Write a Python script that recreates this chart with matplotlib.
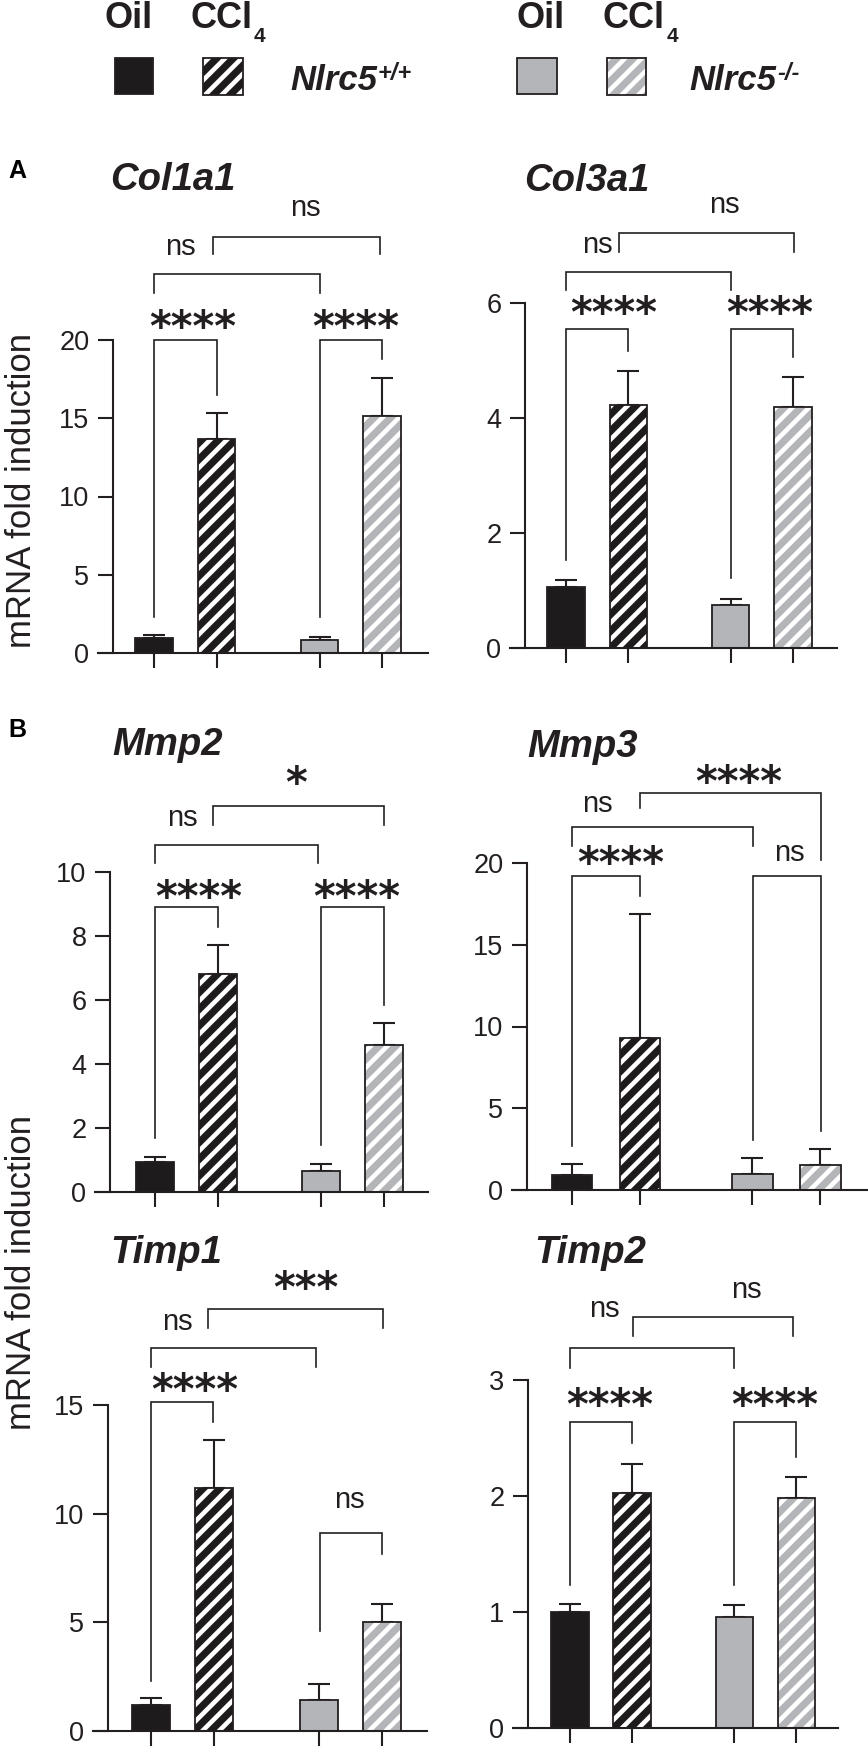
import matplotlib
matplotlib.use('Agg')
import matplotlib.pyplot as plt
from matplotlib.patches import Rectangle
from matplotlib.transforms import offset_copy

plt.rcParams['font.family'] = ['Liberation Sans', 'DejaVu Sans']
plt.rcParams['hatch.linewidth'] = 3.3

W, H = 868, 1746
INK = '#231f20'
GRAY = '#b4b5b8'

# ---------------- data ----------------
groups = ['Oil Nlrc5+/+', 'CCl4 Nlrc5+/+', 'Oil Nlrc5-/-', 'CCl4 Nlrc5-/-']
positions = [0, 1, 2.65, 3.65]
genes = ['Col1a1', 'Col3a1', 'Mmp2', 'Mmp3', 'Timp1', 'Timp2']

col1a1_mean = [0.95, 13.7, 0.82, 15.15]
col1a1_sem = [0.20, 1.65, 0.20, 2.45]
col3a1_mean = [1.06, 4.22, 0.74, 4.19]
col3a1_sem = [0.13, 0.60, 0.12, 0.52]
mmp2_mean = [0.94, 6.81, 0.66, 4.59]
mmp2_sem = [0.16, 0.91, 0.22, 0.69]
mmp3_mean = [0.92, 9.30, 0.98, 1.53]
mmp3_sem = [0.64, 7.60, 0.95, 0.97]
timp1_mean = [1.20, 11.18, 1.43, 5.02]
timp1_sem = [0.32, 2.22, 0.73, 0.82]
timp2_mean = [1.00, 2.03, 0.96, 1.98]
timp2_sem = [0.07, 0.25, 0.10, 0.18]

# significance: [WT oil vs CCl4, KO oil vs CCl4, oil WT vs KO, CCl4 WT vs KO]
col1a1_sig = ['****', '****', 'ns', 'ns']
col3a1_sig = ['****', '****', 'ns', 'ns']
mmp2_sig = ['****', '****', 'ns', '*']
mmp3_sig = ['****', 'ns', 'ns', '****']
timp1_sig = ['****', 'ns', 'ns', '***']
timp2_sig = ['****', '****', 'ns', 'ns']

col1a1_ticks = [0, 5, 10, 15, 20]
col3a1_ticks = [0, 2, 4, 6]
mmp2_ticks = [0, 2, 4, 6, 8, 10]
mmp3_ticks = [0, 5, 10, 15, 20]
timp1_ticks = [0, 5, 10, 15]
timp2_ticks = [0, 1, 2, 3]

data = {
    'Col1a1': (col1a1_mean, col1a1_sem, col1a1_sig, col1a1_ticks),
    'Col3a1': (col3a1_mean, col3a1_sem, col3a1_sig, col3a1_ticks),
    'Mmp2': (mmp2_mean, mmp2_sem, mmp2_sig, mmp2_ticks),
    'Mmp3': (mmp3_mean, mmp3_sem, mmp3_sig, mmp3_ticks),
    'Timp1': (timp1_mean, timp1_sem, timp1_sig, timp1_ticks),
    'Timp2': (timp2_mean, timp2_sem, timp2_sig, timp2_ticks),
}

# ---------------- layout (pixels) ----------------
layout = {
    'Col1a1': dict(x0=154, s=62.5, yaxis=113, xright=428, y0=653, ytop=340, title=(110, 190)),
    'Col3a1': dict(x0=566, s=62.2, yaxis=525, xright=837, y0=648, ytop=303, title=(524, 191)),
    'Mmp2': dict(x0=155, s=62.7, yaxis=110, xright=428, y0=1192, ytop=872, title=(112, 755)),
    'Mmp3': dict(x0=572, s=68.0, yaxis=527, xright=867, y0=1190, ytop=863, title=(527, 757)),
    'Timp1': dict(x0=151, s=63.3, yaxis=108, xright=427, y0=1731, ytop=1405, title=(110, 1263)),
    'Timp2': dict(x0=570, s=62.0, yaxis=528, xright=838, y0=1728, ytop=1380, title=(534, 1263)),
}
# brackets: (x_left, x_right, y_bar, y_left_end, y_right_end, label_x, label_y)
brackets = {
    'Col1a1': [(0, 1, 20, 2.3, 16.5, 0.62, 21.47), (2.65, 3.65, 20, 2.3, 18.8, 3.23, 21.47),
               (0, 2.65, 24.2, 23.0, 23.0, 0.42, 25.94), (0.94, 3.62, 26.6, 25.5, 25.5, 2.43, 28.43)],
    'Col3a1': [(0, 1, 5.55, 1.53, 5.17, 0.77, 6.0), (2.65, 3.65, 5.55, 1.22, 5.06, 3.28, 6.0),
               (0, 2.65, 6.54, 6.23, 6.23, 0.5, 7.01), (0.85, 3.67, 7.22, 6.89, 6.89, 2.54, 7.69)],
    'Mmp2': [(0, 1, 8.9, 1.69, 8.28, 0.69, 9.53), (2.65, 3.65, 8.9, 1.47, 5.84, 3.22, 9.53),
             (0, 2.6, 10.84, 10.28, 10.28, 0.43, 11.69), (0.92, 3.65, 12.06, 11.47, 11.47, 2.25, 13.09)],
    'Mmp3': [(0, 1, 19.2, 2.69, 18.0, 0.71, 20.6), (2.66, 3.66, 19.2, 3.06, 3.6, 3.19, 20.6),
             (0, 2.66, 22.2, 21.04, 21.04, 0.37, 23.6), (1.0, 3.66, 24.28, 23.36, 20.2, 2.45, 25.57)],
    'Timp1': [(0, 0.98, 15.14, 2.3, 14.2, 0.69, 16.15), (2.67, 3.65, 9.1, 4.6, 8.15, 3.13, 10.63),
              (0, 2.6, 17.6, 16.75, 16.75, 0.41, 18.78), (0.9, 3.67, 19.4, 18.55, 18.55, 2.45, 20.85)],
    'Timp2': [(0, 1, 2.64, 1.23, 2.46, 0.64, 2.87), (2.65, 3.65, 2.64, 1.23, 2.34, 3.3, 2.87),
              (0, 2.65, 3.28, 3.10, 3.10, 0.55, 3.61), (1.02, 3.6, 3.54, 3.38, 3.38, 2.84, 3.77)],
}

fills = ['#1e1b1c', '#1e1b1c', GRAY, GRAY]
hatched = [False, True, False, True]
HATCH = '//'

fig = plt.figure(figsize=(W / 100, H / 100), dpi=100)
fig.patch.set_facecolor('white')


def ftext(x, y, s, **kw):
    return fig.text(x / W, 1 - y / H, s, **kw)


STAR_FS = 30
NS_FS = 21

for gene in genes:
    L = layout[gene]
    means, sems, sigs, ticks = data[gene]
    ymax = ticks[-1]
    left_px = L['yaxis'] - 15
    ax = fig.add_axes([left_px / W, 1 - L['y0'] / H, (L['xright'] - left_px) / W,
                       (L['y0'] - L['ytop']) / H])
    ax.set_xlim((left_px - L['x0']) / L['s'], (L['xright'] - L['x0']) / L['s'])
    ax.set_ylim(0, ymax)
    ax.patch.set_alpha(0)
    for sp in ['top', 'right']:
        ax.spines[sp].set_visible(False)
    ax.spines['left'].set_position(('data', (L['yaxis'] - L['x0']) / L['s']))
    for sp in ['left', 'bottom']:
        ax.spines[sp].set_linewidth(1.5)
        ax.spines[sp].set_color(INK)
    ax.set_yticks(ticks)
    ax.set_yticklabels([str(t) for t in ticks])
    ax.set_xticks(positions)
    ax.set_xticklabels([])
    ax.tick_params(axis='y', direction='out', length=11, width=1.5, color=INK,
                   labelcolor=INK, labelsize=19.5, pad=6)
    ax.tick_params(axis='x', direction='out', length=11, width=1.5, color=INK)

    ax.errorbar(positions, means, yerr=[[0] * 4, sems], fmt='none', ecolor=INK,
                elinewidth=1.5, capsize=8, capthick=1.5, zorder=1)
    for p, m, fc, h in zip(positions, means, fills, hatched):
        if h:
            ax.bar(p, m, width=0.6, color=fc, edgecolor='white', linewidth=0,
                   hatch=HATCH, zorder=2)
            ax.bar(p, m, width=0.6, fill=False, edgecolor=INK, linewidth=1.3, zorder=3)
        else:
            ax.bar(p, m, width=0.6, color=fc, edgecolor=INK, linewidth=1.3, zorder=2)

    for (xa, xb, yb, yla, ylb, lx, ly), lab in zip(brackets[gene], sigs):
        ax.plot([xa, xa, xb, xb], [yla, yb, yb, ylb], color=INK, lw=1.2,
                clip_on=False, solid_joinstyle='miter', zorder=4)
        if '*' in lab:
            tr = offset_copy(ax.transData, fig=fig, y=-0.58 * STAR_FS, units='points')
            ax.text(lx, ly, lab, transform=tr, ha='center', va='baseline',
                    fontsize=STAR_FS, family='DejaVu Sans', fontweight='bold',
                    color=INK, clip_on=False)
        else:
            tr = offset_copy(ax.transData, fig=fig, y=-0.26 * NS_FS, units='points')
            ax.text(lx, ly, lab, transform=tr, ha='center', va='baseline',
                    fontsize=NS_FS, color=INK, clip_on=False)

    tx, ty = L['title']
    ftext(tx, ty, gene, fontsize=27.5, fontweight='bold', fontstyle='italic',
          ha='left', va='baseline', color=INK)

# panel letters and axis labels
ftext(8, 178, 'A', fontsize=18, fontweight='bold', ha='left', va='baseline', color='black')
ftext(8, 737, 'B', fontsize=18, fontweight='bold', ha='left', va='baseline', color='black')
ftext(22, 490, 'mRNA fold induction', fontsize=25, rotation=90, ha='center',
      va='center', color=INK)
ftext(22, 1272, 'mRNA fold induction', fontsize=25, rotation=90, ha='center',
      va='center', color=INK)

# legend
lax = fig.add_axes([0, 1 - 110 / H, 1, 110 / H])
lax.set_xlim(0, W)
lax.set_ylim(110, 0)
lax.axis('off')
legend_items = [
    (115, 58, 38, 36, fills[0], False),
    (203, 58, 40, 37, fills[1], True),
    (517, 58, 40, 36, fills[2], False),
    (607, 58, 39, 37, fills[3], True),
]
for x, y, w, h, fc, hch in legend_items:
    if hch:
        lax.add_patch(Rectangle((x, y), w, h, facecolor=fc, edgecolor='white',
                                linewidth=0, hatch=HATCH))
        lax.add_patch(Rectangle((x, y), w, h, fill=False, edgecolor=INK, linewidth=1.3))
    else:
        lax.add_patch(Rectangle((x, y), w, h, facecolor=fc, edgecolor=INK, linewidth=1.3))

fig.canvas.draw()
renderer = fig.canvas.get_renderer()
for ox, oxc, onl, sup in [(105, 190, 290, '+/+'), (517, 603, 689, '-/-')]:
    ftext(ox, 28, 'Oil', fontsize=26, fontweight='bold', ha='left', va='baseline', color=INK)
    t1 = ftext(oxc, 28, 'CCl', fontsize=26, fontweight='bold', ha='left', va='baseline', color=INK)
    e1 = t1.get_window_extent(renderer)
    fig.text(e1.x1 / W + 2 / W, 1 - 42 / H, '4', fontsize=15, fontweight='bold',
             ha='left', va='baseline', color=INK)
    t2 = ftext(onl, 90, 'Nlrc5', fontsize=25, fontweight='bold', fontstyle='italic',
               ha='left', va='baseline', color=INK)
    e2 = t2.get_window_extent(renderer)
    fig.text(e2.x1 / W + 1 / W, 1 - 80 / H, sup, fontsize=17, fontweight='bold',
             fontstyle='italic', ha='left', va='baseline', color=INK)

fig.savefig('out.png', dpi=100, facecolor='white')
